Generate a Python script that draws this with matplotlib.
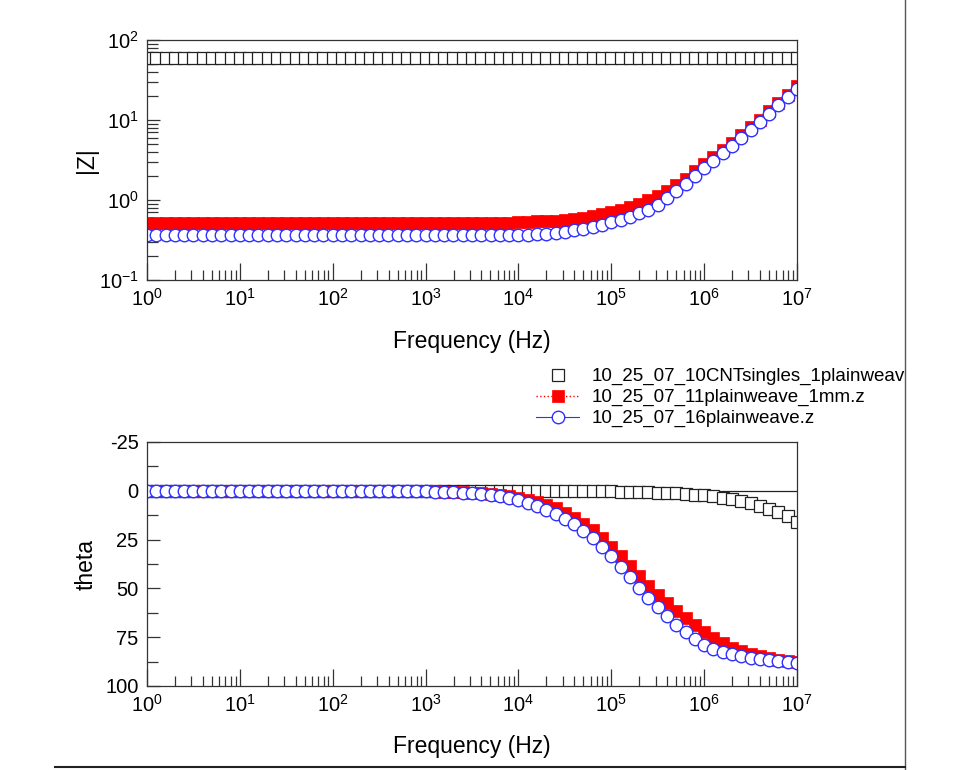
import numpy as np
import matplotlib
matplotlib.use("Agg")
import matplotlib.pyplot as plt
from matplotlib.ticker import LogLocator, MultipleLocator, NullFormatter
from matplotlib.lines import Line2D

plt.rcParams['font.family'] = ['Liberation Sans', 'DejaVu Sans']
plt.rcParams['mathtext.fontset'] = 'custom'
plt.rcParams['mathtext.rm'] = 'Liberation Sans'
plt.rcParams['mathtext.it'] = 'Liberation Sans'
plt.rcParams['mathtext.default'] = 'regular'
plt.rcParams['axes.unicode_minus'] = False

# frequency: 10 points per decade, 1 Hz .. 10 MHz
log_freq = [0.0, 0.1, 0.2, 0.3, 0.4, 0.5, 0.6, 0.7, 0.8, 0.9,
            1.0, 1.1, 1.2, 1.3, 1.4, 1.5, 1.6, 1.7, 1.8, 1.9,
            2.0, 2.1, 2.2, 2.3, 2.4, 2.5, 2.6, 2.7, 2.8, 2.9,
            3.0, 3.1, 3.2, 3.3, 3.4, 3.5, 3.6, 3.7, 3.8, 3.9,
            4.0, 4.1, 4.2, 4.3, 4.4, 4.5, 4.6, 4.7, 4.8, 4.9,
            5.0, 5.1, 5.2, 5.3, 5.4, 5.5, 5.6, 5.7, 5.8, 5.9,
            6.0, 6.1, 6.2, 6.3, 6.4, 6.5, 6.6, 6.7, 6.8, 6.9,
            7.0]
freq = 10.0 ** np.array(log_freq)

labels = ["10_25_07_10CNTsingles_1plainweave.z",
          "10_25_07_11plainweave_1mm.z",
          "10_25_07_16plainweave.z"]

# |Z| (ohm)
z_cnt = [60, 60, 60, 60, 60, 60, 60, 60, 60, 60,
         60, 60, 60, 60, 60, 60, 60, 60, 60, 60,
         60, 60, 60, 60, 60, 60, 60, 60, 60, 60,
         60, 60, 60, 60, 60, 60, 60, 60, 60, 60,
         60, 60, 60, 60, 60, 60, 60, 60, 60, 60,
         60, 60, 60, 60, 60, 60, 60, 60, 60, 60,
         60, 60, 60, 60, 60, 60, 60, 60, 60, 60,
         60]
z_1mm = [0.52, 0.52, 0.52, 0.52, 0.52, 0.52, 0.52, 0.52, 0.52, 0.52,
         0.52, 0.52, 0.52, 0.52, 0.52, 0.52, 0.52, 0.52, 0.52, 0.52,
         0.52, 0.52, 0.52, 0.52, 0.52, 0.52, 0.52, 0.52, 0.52, 0.52,
         0.52, 0.52, 0.52, 0.52, 0.52, 0.52, 0.52, 0.52, 0.52, 0.52,
         0.53, 0.53, 0.54, 0.54, 0.55, 0.56, 0.58, 0.60, 0.63, 0.66,
         0.70, 0.75, 0.82, 0.90, 1.00, 1.12, 1.30, 1.55, 1.85, 2.30,
         2.80, 3.40, 4.20, 5.20, 6.50, 8.10, 10.1, 12.8, 16.2, 20.8,
         26.5]
z_16 = [0.36, 0.36, 0.36, 0.36, 0.36, 0.36, 0.36, 0.36, 0.36, 0.36,
        0.36, 0.36, 0.36, 0.36, 0.36, 0.36, 0.36, 0.36, 0.36, 0.36,
        0.36, 0.36, 0.36, 0.36, 0.36, 0.36, 0.36, 0.36, 0.36, 0.36,
        0.36, 0.36, 0.36, 0.36, 0.36, 0.36, 0.36, 0.36, 0.36, 0.36,
        0.37, 0.37, 0.38, 0.38, 0.39, 0.40, 0.42, 0.44, 0.46, 0.49,
        0.53, 0.56, 0.61, 0.68, 0.76, 0.86, 1.05, 1.30, 1.60, 2.00,
        2.50, 3.10, 3.90, 4.80, 6.00, 7.60, 9.50, 12.0, 15.2, 19.3,
        24.5]

# phase (deg)
th_cnt = [0, 0, 0, 0, 0, 0, 0, 0, 0, 0,
          0, 0, 0, 0, 0, 0, 0, 0, 0, 0,
          0, 0, 0, 0, 0, 0, 0, 0, 0, 0,
          0, 0, 0, 0, 0, 0, 0, 0, 0, 0,
          0, 0, 0, 0, 0, 0, 0, 0, 0, 0.1,
          0.3, 0.4, 0.5, 0.6, 0.7, 0.9, 1.1, 1.3, 1.6, 2.0,
          2.4, 2.9, 3.5, 4.3, 5.2, 6.3, 7.6, 9.1, 10.9, 13.1,
          15.8]
th_1mm = [0, 0, 0, 0, 0, 0, 0, 0, 0, 0,
          0, 0, 0, 0, 0, 0, 0, 0, 0, 0,
          0, 0, 0, 0, 0, 0, 0, 0, 0, 0,
          0.2, 0.3, 0.4, 0.5, 0.7, 0.9, 1.2, 1.6, 2.1, 2.7,
          3.5, 4.5, 5.7, 7.2, 9.0, 11.2, 13.8, 16.8, 20.3, 24.3,
          28.7, 33.4, 38.4, 43.6, 48.8, 53.4, 57.7, 61.6, 65.4, 69.0,
          72.4, 75.4, 78.1, 80.3, 82.1, 83.6, 84.8, 85.8, 86.6, 87.2,
          87.7]
th_16 = [0, 0, 0, 0, 0, 0, 0, 0, 0, 0,
         0, 0, 0, 0, 0, 0, 0, 0, 0, 0,
         0, 0, 0, 0, 0, 0, 0, 0, 0.1, 0.2,
         0.3, 0.4, 0.6, 0.8, 1.0, 1.3, 1.7, 2.1, 2.7, 3.5,
         4.6, 6.1, 8.0, 9.8, 11.9, 14.4, 17.2, 20.5, 24.2, 28.7,
         33.5, 38.8, 44.2, 49.7, 54.8, 59.6, 64.2, 68.5, 72.5, 76.0,
         78.8, 81.0, 82.7, 83.8, 84.8, 85.6, 86.3, 86.8, 87.3, 87.7,
         88.0]

fig = plt.figure(figsize=(9.6, 7.7), dpi=100)
ax1 = fig.add_axes([147/960, 1 - 280/770, 650/960, 240/770])
ax2 = fig.add_axes([147/960, 1 - 686/770, 650/960, 244/770])

sq_cnt = dict(ls='none', marker='s', ms=8.5, mfc='white', mec='#222222', mew=0.9)
sq_1mm = dict(ls=':', lw=1.0, color='red', marker='s', ms=9, mfc='red', mec='red', mew=0.5)
ci_16 = dict(ls='-', lw=0.8, color='#3030ff', marker='o', ms=9, mfc='white', mec='#3030ff', mew=1.0)

ax1.plot(freq, z_cnt, label=labels[0], **sq_cnt)
ax1.plot(freq, z_1mm, label=labels[1], **sq_1mm)
ax1.plot(freq, z_16, label=labels[2], **ci_16)

ax2.axhline(0, color='#222222', lw=0.9, zorder=1)
ax2.plot(freq, th_cnt, **sq_cnt)
ax2.plot(freq, th_1mm, **sq_1mm)
ax2.plot(freq, th_16, **ci_16)

for ax in (ax1, ax2):
    ax.set_xscale('log')
    ax.set_xlim(1, 1e7)
    ax.xaxis.set_major_locator(LogLocator(base=10, numticks=10))
    ax.xaxis.set_minor_locator(LogLocator(base=10, subs=np.arange(2, 10), numticks=20))
    ax.xaxis.set_minor_formatter(NullFormatter())
    ax.tick_params(axis='both', which='both', direction='in', top=False, right=False,
                   colors='#333333', labelcolor='black', labelsize=14.5, width=0.9)
    ax.tick_params(axis='x', which='major', length=12, pad=6)
    ax.tick_params(axis='x', which='minor', length=7)
    ax.tick_params(axis='y', which='major', length=9, pad=6)
    ax.tick_params(axis='y', which='minor', length=8)
    for s in ax.spines.values():
        s.set_color('#333333')
        s.set_linewidth(0.9)

ax1.set_xlabel('Frequency (Hz)', fontsize=16.5)
ax1.xaxis.set_label_coords(0.5, -(330 - 280) / 240)
ax2.set_xlabel('Frequency (Hz)', fontsize=16.5)
ax2.xaxis.set_label_coords(0.5, -(735 - 686) / 244)

ax1.set_yscale('log')
ax1.set_ylim(0.1, 100)
ax1.yaxis.set_minor_locator(LogLocator(base=10, subs=np.arange(2, 10), numticks=20))
ax1.yaxis.set_minor_formatter(NullFormatter())
ax1.set_ylabel('|Z|', fontsize=16.5)
ax1.yaxis.set_label_coords(-(147 - 98) / 650, 0.5)

ax2.set_ylim(100, -25)
ax2.yaxis.set_major_locator(MultipleLocator(25))
ax2.yaxis.set_minor_locator(MultipleLocator(12.5))
ax2.set_ylabel('theta', fontsize=16.5)
ax2.yaxis.set_label_coords(-(147 - 98) / 650, 0.5)

fig.legend(loc='upper left', bbox_to_anchor=(536/960, 1 - 368/770), frameon=False,
           fontsize=13.5, handlelength=2.3, handletextpad=0.65, labelspacing=0.2,
           borderpad=0, borderaxespad=0)

# edge of the scanned page: right border clips the legend
fig.patches.append(plt.Rectangle((905/960, 0), 55/960, 1, transform=fig.transFigure,
                                 facecolor='white', edgecolor='none', zorder=10))
fig.lines.append(Line2D([905/960, 905/960], [0, 1], transform=fig.transFigure,
                        color='#555555', lw=1, zorder=11))
fig.lines.append(Line2D([55/960, 905/960], [3/770, 3/770], transform=fig.transFigure,
                        color='#222222', lw=1.5, zorder=11))

fig.savefig('out.png', dpi=100, facecolor='white')
